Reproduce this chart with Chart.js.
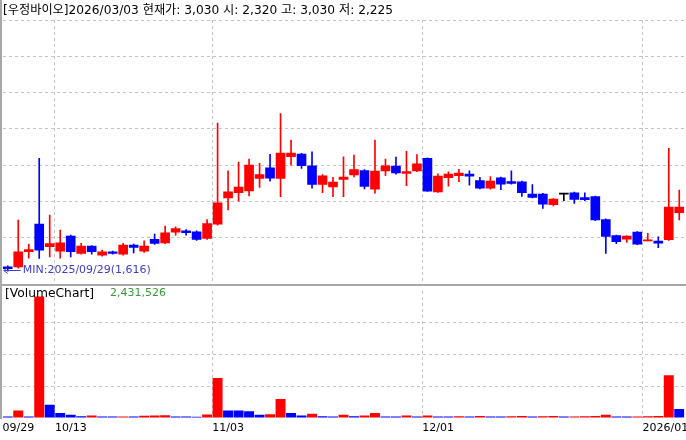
<!DOCTYPE html>
<html lang="ko">
<head>
<meta charset="UTF-8">
<title>우정바이오 일봉</title>
<script src="https://cdn.jsdelivr.net/npm/chart.js"></script>
<style>
  body { margin: 0; background: #fff; }
  #wrap { position: relative; width: 686px; height: 440px; overflow: hidden;
          font-family: 'DejaVu Sans', 'Noto Sans CJK KR', sans-serif; font-size: 11.5px; line-height: 14px; }
  canvas { position: absolute; left: 0; }
  #price { top: 0; }
  #vol { top: 284px; }
  .lbl { position: absolute; white-space: nowrap; }
  #head { left: 3px; top: 3px; color: #000; font-size: 12.2px; }
  #vtitle { left: 5px; top: 286px; color: #000; font-size: 12.3px; }
  #vval { left: 110px; top: 286px; color: #3a9a3a; font-size: 11px; }
  #sep { position: absolute; left: 0; top: 284px; width: 686px; height: 2px; background: #a8a8a8; }
  #lborder { position: absolute; left: 0; top: 0; width: 2px; height: 419px; background: #a8a8a8; }
</style>
</head>
<body>
<div id="wrap">
  <canvas id="price" width="686" height="285"></canvas>
  <canvas id="vol" width="686" height="156"></canvas>
  <div id="sep"></div>
  <div id="lborder"></div>
  <div class="lbl" id="head"></div>
  <div class="lbl" id="vtitle"></div>
  <div class="lbl" id="vval"></div>
</div>

<script>
  // header values (last trading day shown in the title)
  const stockName = '우정바이오';
  const lastDate = '2026/03/03';
  const lastPrice = 3030, lastOpen = 2320, lastHigh = 3030, lastLow = 2225;
  const lastVolume = 2431526;

  const dates = [
    '2025/09/29','2025/09/30','2025/10/01','2025/10/02','2025/10/10','2025/10/13','2025/10/14','2025/10/15','2025/10/16','2025/10/17',
    '2025/10/20','2025/10/21','2025/10/22','2025/10/23','2025/10/24','2025/10/27','2025/10/28','2025/10/29','2025/10/30','2025/10/31',
    '2025/11/03','2025/11/04','2025/11/05','2025/11/06','2025/11/07','2025/11/10','2025/11/11','2025/11/12','2025/11/13','2025/11/14',
    '2025/11/17','2025/11/18','2025/11/19','2025/11/20','2025/11/21','2025/11/24','2025/11/25','2025/11/26','2025/11/27','2025/11/28',
    '2025/12/01','2025/12/02','2025/12/03','2025/12/04','2025/12/05','2025/12/08','2025/12/09','2025/12/10','2025/12/11','2025/12/12',
    '2025/12/15','2025/12/16','2025/12/17','2025/12/18','2025/12/19','2025/12/22','2025/12/23','2025/12/24','2025/12/26','2025/12/29',
    '2025/12/30','2026/01/02','2026/01/05','2026/01/06','2026/01/07'
  ];

  const opens = [1640,1640,1724,1875,1751,1727,1809,1714,1754,1705,
    1723,1710,1760,1727,1791,1772,1831,1839,1833,1797,
    1875,2020,2049,2059,2127,2186,2127,2247,2261,2197,
    2094,2081,2121,2146,2171,2068,2169,2195,2155,2168,
    2238,2053,2132,2143,2151,2115,2074,2131,2110,2109,
    2041,2041,1983,2041,2048,2022,2027,1901,1812,1793,
    1831,1783,1782,1790,1938];
  const highs = [1645,1898,1765,2238,1925,1842,1815,1769,1757,1732,
    1727,1769,1765,1784,1820,1864,1861,1846,1838,1901,
    2432,2169,2217,2234,2210,2260,2485,2338,2266,2274,
    2148,2133,2246,2256,2176,2338,2234,2245,2277,2259,
    2240,2152,2164,2177,2169,2133,2137,2135,2169,2112,
    2093,2045,2016,2041,2052,2048,2030,1905,1815,1811,
    1834,1824,1806,2293,2063];
  const lows = [1616,1633,1688,1686,1695,1688,1695,1710,1710,1699,
    1710,1705,1717,1720,1764,1768,1815,1815,1786,1791,
    1870,1953,2002,2031,2077,2112,2026,2200,2182,2073,
    2048,2026,2026,2136,2070,2046,2142,2150,2087,2165,
    2055,2050,2085,2109,2090,2070,2068,2065,2095,2028,
    2020,1962,1975,2004,1990,2005,1895,1714,1768,1774,
    1762,1783,1746,1785,1898];
  const closes = [1630,1723,1735,1732,1768,1772,1723,1754,1723,1723,
    1714,1760,1747,1754,1769,1828,1851,1828,1791,1879,
    1993,2053,2079,2200,2149,2129,2267,2267,2198,2094,
    2142,2107,2135,2176,2083,2168,2197,2157,2165,2208,
    2057,2140,2151,2157,2140,2074,2112,2096,2100,2048,
    2023,1986,2013,2041,2011,2010,1898,1808,1779,1809,
    1765,1785,1771,1969,1969];

  const volumes = [50000,240000,50000,3830000,420000,157000,105000,55000,80000,50000,
    45000,50000,45000,70000,75000,85000,50000,45000,40000,110000,
    1260000,240000,235000,210000,105000,115000,600000,160000,75000,135000,
    55000,50000,105000,55000,75000,160000,50000,45000,75000,50000,
    75000,50000,45000,55000,50000,60000,50000,45000,55000,60000,
    50000,55000,60000,45000,50000,55000,60000,105000,50000,45000,
    50000,55000,60000,1350000,285000];

  // x axis labels (index into dates)
  const tickIndex = [0, 5, 20, 40, 61];
  const tickLabels = ['09/29', '10/13', '11/03', '12/01', '2026/01'];

  const RED = '#ff0000', BLUE = '#0000ff', GRID = '#c4c4c4';
  const FONT = "'DejaVu Sans', 'Noto Sans CJK KR', sans-serif";
  Chart.defaults.font.family = FONT;
  Chart.defaults.font.size = 11;

  const fmt = n => n.toLocaleString('en-US');

  document.getElementById('head').textContent =
    '[' + stockName + ']' + lastDate + ' 현재가: ' + fmt(lastPrice) + ' 시: ' + fmt(lastOpen) +
    ' 고: ' + fmt(lastHigh) + ' 저: ' + fmt(lastLow);
  document.getElementById('vtitle').textContent = '[VolumeChart]';
  document.getElementById('vval').textContent = fmt(lastVolume);

  const candleColors = dates.map((d, i) => closes[i] > opens[i] ? RED : (closes[i] < opens[i] ? BLUE : '#000'));
  const volColors = volumes.map((v, i) => (i > 0 && v > volumes[i - 1]) ? RED : BLUE);

  // vertical grid only at the labelled dates (left edge of the category)
  const xGridColor = ctx => (ctx.index > 0 && tickIndex.includes(ctx.index)) ? GRID : 'transparent';

  // MIN marker, placed from the data through the scales
  const minMarker = {
    id: 'minMarker',
    afterDatasetsDraw(chart) {
      const lo = Math.min(...lows);
      const i = lows.indexOf(lo);
      const x = chart.scales.x.getPixelForValue(i);
      const y = Math.round(chart.scales.y.getPixelForValue(lo)) - 0.5;
      const c = chart.ctx;
      c.save();
      c.strokeStyle = '#3c3cc8';
      c.fillStyle = '#3c3cc8';
      c.lineWidth = 1;
      c.beginPath();
      c.moveTo(x - 4, y); c.lineTo(x + 13, y);
      c.moveTo(x - 4, y); c.lineTo(x, y - 3);
      c.moveTo(x - 4, y); c.lineTo(x, y + 3);
      c.stroke();
      c.font = '11px ' + FONT;
      c.textBaseline = 'middle';
      c.fillText('MIN:' + dates[i] + '(' + fmt(lo) + ')', x + 15, y);
      c.restore();
    }
  };

  new Chart(document.getElementById('price'), {
    type: 'bar',
    data: {
      labels: dates,
      datasets: [
        { data: dates.map((d, i) => [opens[i], closes[i]]), backgroundColor: candleColors,
          barThickness: 9, minBarLength: 1, grouped: false, order: 0 },
        { data: dates.map((d, i) => [lows[i], highs[i]]), backgroundColor: candleColors,
          barThickness: 1, grouped: false, order: 1 }
      ]
    },
    options: {
      responsive: false, animation: false, events: [],
      layout: { padding: { left: 2.5, right: 1.5, top: 20, bottom: 1 } },
      plugins: { legend: { display: false }, tooltip: { enabled: false } },
      scales: {
        x: { offset: true, ticks: { display: false, autoSkip: false },
             grid: { offset: true, drawTicks: false, color: xGridColor },
             border: { display: false, dash: [3, 3] } },
        y: { min: 1545.5, max: 3000, ticks: { display: false, stepSize: 200 },
             grid: { drawTicks: false, color: ctx => (ctx.tick && ctx.tick.value % 200 === 0) ? GRID : 'transparent' },
             border: { display: false, dash: [3, 3] } }
      }
    },
    plugins: [minMarker]
  });

  new Chart(document.getElementById('vol'), {
    type: 'bar',
    data: {
      labels: dates,
      datasets: [{ data: volumes, backgroundColor: volColors, barPercentage: 0.95, categoryPercentage: 1 }]
    },
    options: {
      responsive: false, animation: false, events: [],
      layout: { padding: { left: 2.5, right: 1.5, top: 7, bottom: 0 } },
      plugins: { legend: { display: false }, tooltip: { enabled: false } },
      scales: {
        x: { offset: true,
             ticks: { autoSkip: false, maxRotation: 0, minRotation: 0, align: 'start', labelOffset: -5.25,
                      padding: 4, color: '#000',
                      callback: (v, i) => { const k = tickIndex.indexOf(i); return k < 0 ? '' : tickLabels[k]; } },
             grid: { offset: true, drawTicks: false, color: xGridColor },
             border: { display: false, dash: [3, 3] },
             afterFit: s => { s.height = 22; } },
        y: { min: 0, max: 4000000, ticks: { display: false, stepSize: 1000000 },
             grid: { drawTicks: false, color: ctx => (ctx.tick && ctx.tick.value > 0 && ctx.tick.value < 4000000) ? GRID : 'transparent' },
             border: { display: false, dash: [3, 3] } }
      }
    }
  });
</script>
</body>
</html>
